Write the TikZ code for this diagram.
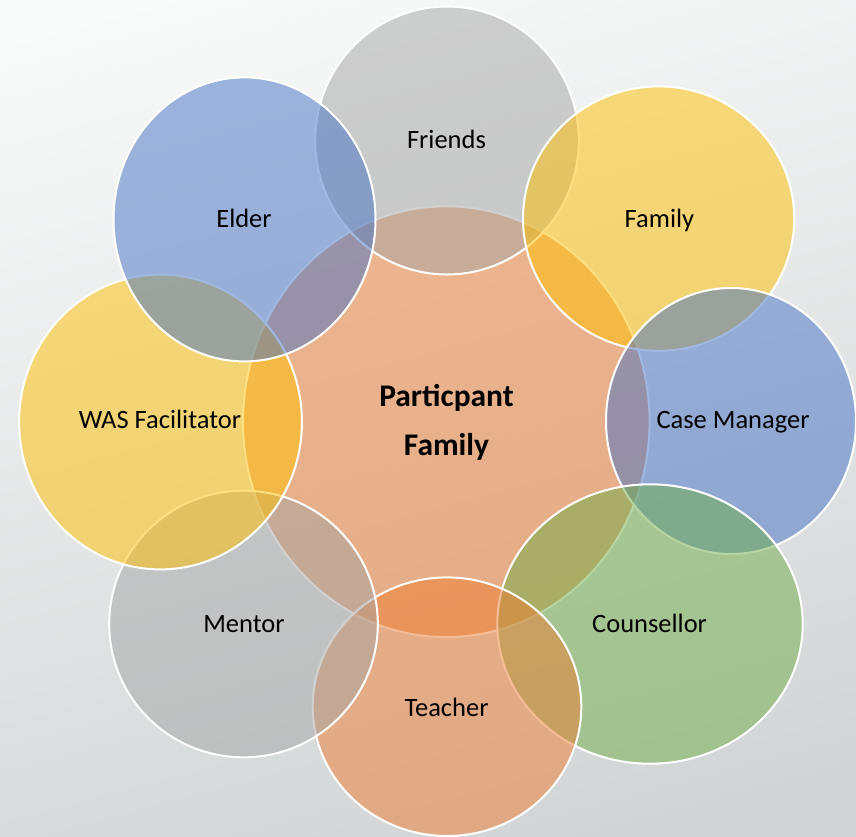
\documentclass[tikz,border=0pt]{standalone}
\usepackage{fontspec}
\setmainfont{Carlito}
\definecolor{bgtop}{HTML}{F9FAFA}
\definecolor{bgbot}{HTML}{D0D3D4}
\definecolor{cgray}{HTML}{A5A5A5}
\definecolor{cblue}{HTML}{4472C4}
\definecolor{cgold}{HTML}{FFC000}
\definecolor{cgreen}{HTML}{70AD47}
\definecolor{corange}{HTML}{ED7D31}
\tikzset{
  circ/.style={draw=white, line width=2pt, fill opacity=0.5},
  lbl/.style={font=\fontsize{26.5}{30}\selectfont, text=black, anchor=base, inner sep=0pt},
  clbl/.style={font=\fontsize{31.5}{36}\selectfont\bfseries, text=black, anchor=base, inner sep=0pt}
}
\begin{document}
\begin{tikzpicture}[x=1pt,y=-1pt]
\useasboundingbox (0,0) rectangle (856,836);
\shade[top color=bgtop, bottom color=bgbot, shading angle=15] (-60,-60) rectangle (916,896);
% centre
\path[circ, fill=corange] (446.3,421.7) ellipse [x radius=203.3, y radius=215.4];
% satellites in stacking order
\path[circ, fill=cgray]   (447,140.5)   ellipse [x radius=131.8, y radius=134];   % Friends
\path[circ, fill=cgold]   (658.6,218.6) ellipse [x radius=135.6, y radius=132.2]; % Family
\path[circ, fill=cblue]   (731,421)     ellipse [x radius=125, y radius=133];     % Case Manager
\path[circ, fill=cgreen]  (650,624)     ellipse [x radius=152.7, y radius=139.7]; % Counsellor
\path[circ, fill=corange] (447,706.7)   ellipse [x radius=134.3, y radius=129.3]; % Teacher
\path[circ, fill=cgray]   (243.5,624)   ellipse [x radius=134.3, y radius=133.3]; % Mentor
\path[circ, fill=cgold]   (160.5,422)   ellipse [x radius=141.4, y radius=147.4]; % WAS Facilitator
\path[circ, fill=cblue]   (244.5,219.4) ellipse [x radius=131, y radius=142];     % Elder
% labels
\node[clbl] (pc1) at (446.5,406.7) {Particpant};
\node[clbl] (pc2) at (446.5,455) {Family};
\node[lbl] (friends) at (446.5,148) {Friends};
\node[lbl] (family)  at (659.4,227) {Family};
\node[lbl] (elder)   at (244,227) {Elder};
\node[lbl] (was)     at (160,428.5) {WAS Facilitator};
\node[lbl] (cm)      at (733,428.5) {Case Manager};
\node[lbl] (mentor)  at (244,632.3) {Mentor};
\node[lbl] (couns)   at (649.6,632.3) {Counsellor};
\node[lbl] (teacher) at (446.5,716.3) {Teacher};
\end{tikzpicture}
\end{document}
